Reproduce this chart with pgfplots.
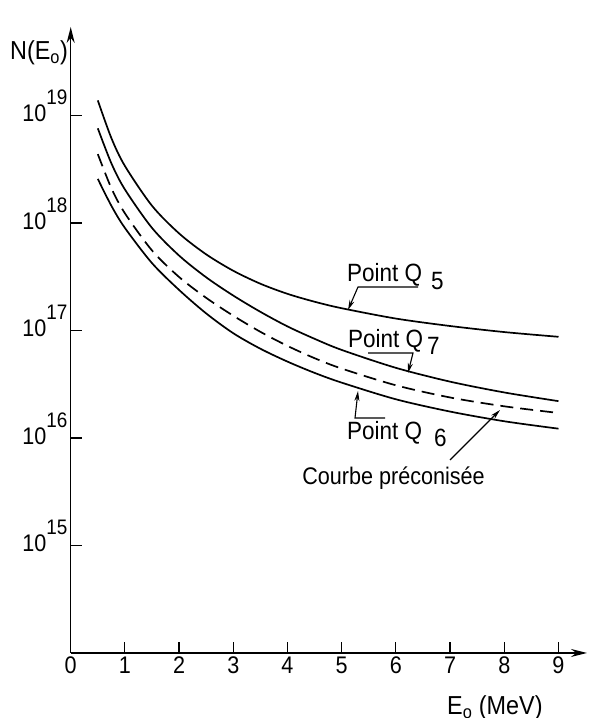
\documentclass[border=0pt]{standalone}
\usepackage{fontspec}
\setmainfont{Liberation Sans}[FakeStretch=0.9]
\usepackage{pgfplots}
\pgfplotsset{compat=1.18}
\usetikzlibrary{arrows.meta}
\newcommand\tenp[1]{10\raisebox{17pt}{\fontsize{21}{21}\selectfont #1}}
\begin{document}
\begin{tikzpicture}[x=1pt,y=1pt]
\path[use as bounding box] (-70.7,-65) rectangle (520.3,653);
\begin{axis}[
  at={(0pt,0pt)}, anchor=south west,
  scale only axis, width=516.3pt, height=626pt,
  xmin=0, xmax=9.526, ymode=log, ymin=1e14, ymax=6.65e19,
  axis x line=bottom, axis y line=left,
  axis line style={line width=1.4pt, -{Stealth[length=16pt,width=8pt]}},
  xtick={0,1,2,3,4,5,6,7,8,9},
  ytick={1e15,1e16,1e17,1e18,1e19},
  yticklabels={\tenp{15},\tenp{16},\tenp{17},\tenp{18},\tenp{19}},
  yminorticks=false, xminorticks=false,
  tick align=inside, major tick length=11pt,
  tick style={line width=1.2pt, black},
  ticklabel style={font=\fontsize{24}{24}\selectfont},
  yticklabel style={anchor=base east, inner sep=0pt, xshift=-3pt, yshift=-6.3pt},
  /pgf/number format/assume math mode=true,
  clip=false,
]
% Point Q5
\addplot[black, line width=1.7pt, smooth] table {
0.5  1.380e19
0.75 6.17e18
1.0  3.39e18
1.5  1.445e18
2.0  7.99e17
2.5  5.10e17
3.0  3.59e17
3.5  2.72e17
4.0  2.19e17
4.5  1.85e17
5.0  1.61e17
6.0  1.29e17
7.0  1.10e17
8.0  9.66e16
9.0  8.73e16
};
% Point Q7
\addplot[black, line width=1.7pt, smooth] table {
0.5  7.59e18
0.75 3.59e18
1.0  2.05e18
1.5  8.99e17
2.0  4.97e17
2.5  3.12e17
3.0  2.11e17
3.5  1.49e17
4.0  1.09e17
4.5  8.36e16
5.0  6.59e16
6.0  4.49e16
7.0  3.34e16
8.0  2.65e16
9.0  2.20e16
};
% Courbe preconisee
\addplot[black, line width=1.7pt, smooth, dash pattern=on 13pt off 7pt] table {
0.5  4.37e18
0.75 2.11e18
1.0  1.23e18
1.5  5.55e17
2.0  3.14e17
2.5  2.01e17
3.0  1.37e17
3.5  9.71e16
4.0  7.18e16
4.5  5.52e16
5.0  4.42e16
6.0  3.09e16
7.0  2.38e16
8.0  1.97e16
8.95 1.72e16
};
% Point Q6
\addplot[black, line width=1.7pt, smooth] table {
0.5  2.57e18
0.75 1.445e18
1.0  8.99e17
1.5  4.23e17
2.0  2.38e17
2.5  1.44e17
3.0  9.42e16
3.5  6.76e16
4.0  5.13e16
4.5  4.03e16
5.0  3.27e16
6.0  2.29e16
7.0  1.76e16
8.0  1.43e16
9.0  1.22e16
};
\end{axis}
% axis labels
\node[anchor=base west, inner sep=0pt, font=\fontsize{26}{26}\selectfont] at (-60.7,593) {N(E\textsubscript{o})};
\node[anchor=base west, inner sep=0pt, font=\fontsize{26}{26}\selectfont] at (376.3,-62) {E\textsubscript{o} (MeV)};
% annotations
\begin{scope}[font=\fontsize{25}{25}\selectfont]
\node[anchor=base west, inner sep=0pt] at (276.3,371) {Point Q\hspace{9pt}\raisebox{-8pt}{5}};
\node[anchor=base west, inner sep=0pt] at (277.3,305) {Point Q\hspace{4pt}\raisebox{-7pt}{7}};
\node[anchor=base west, inner sep=0pt] at (276.3,213) {Point Q\hspace{12pt}\raisebox{-7pt}{6}};
\node[anchor=base east, inner sep=0pt, font=\fontsize{24}{24}\selectfont] at (414.3,168) {Courbe préconisée};
\end{scope}
\begin{scope}[line width=1.1pt, -{Stealth[length=10pt,width=5pt]}]
\draw (347.3,366) -- (287.3,366) -- (277.3,343);
\draw (297.3,300) -- (342.3,300) -- (337.3,280);
\draw (314.3,235) -- (284.3,235) -- (287.3,262);
\draw (379.3,193) -- (429.3,243);
\end{scope}
\end{tikzpicture}
\end{document}
